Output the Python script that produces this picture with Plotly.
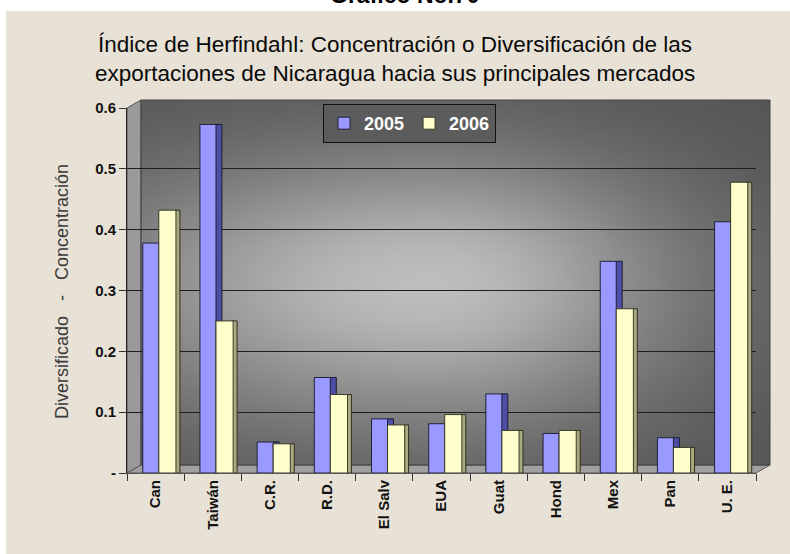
import base64
import math
import struct
import zlib

import plotly.graph_objects as go

# ---------------- data ----------------
categories = ["Can", "Taiwán", "C.R.", "R.D.", "El Salv", "EUA", "Guat", "Hond", "Mex", "Pan", "U. E."]
values_2005 = [0.378, 0.573, 0.051, 0.157, 0.089, 0.081, 0.130, 0.065, 0.348, 0.058, 0.413]
values_2006 = [0.432, 0.250, 0.048, 0.129, 0.079, 0.096, 0.070, 0.070, 0.270, 0.042, 0.478]
y_tick_values = [0, 0.1, 0.2, 0.3, 0.4, 0.5, 0.6]
y_tick_labels = ["-", "0.1", "0.2", "0.3", "0.4", "0.5", "0.6"]
series_names = ["2005", "2006"]

# ---------------- geometry helpers (pixels -> paper) ----------------
W, H = 790, 554
L, R, T, B = 127, 34, 108, 81
PW, PH = W - L - R, H - T - B


def px(x):
    return (x - L) / PW


def py(y):
    return (H - B - y) / PH


BEIGE = "#e8e1d5"
FONT = "Liberation Sans, Arial, sans-serif"


# ---------------- back-wall gradient as a tiny PNG (style only) ----------------
def _chunk(tag, data):
    return struct.pack(">I", len(data)) + tag + data + struct.pack(">I", zlib.crc32(tag + data) & 0xFFFFFFFF)


def gradient_png(w, h):
    rows = []
    for j in range(h):
        v = (j + 0.5) / h
        row = bytearray([0])
        for i in range(w):
            u = (i + 0.5) / w
            dx = u - 0.46
            sx = 0.55 if dx < 0 else 0.40
            dy = v - 0.50
            sy = 0.36 if dy < 0 else 0.40
            k = math.exp(-((dx / sx) ** 2 + (dy / sy) ** 2))
            row.append(int(84 + (190 - 84) * k))
        rows.append(bytes(row))
    raw = b"".join(rows)
    png = (b"\x89PNG\r\n\x1a\n" + _chunk(b"IHDR", struct.pack(">IIBBBBB", w, h, 8, 0, 0, 0, 0))
           + _chunk(b"IDAT", zlib.compress(raw)) + _chunk(b"IEND", b""))
    return "data:image/png;base64," + base64.b64encode(png).decode()


fig = go.Figure()
# pseudo-3D: darker side faces drawn behind the front faces
fig.add_trace(go.Bar(x=categories, y=values_2005, name=series_names[0] + " side", showlegend=False,
                     offset=0.05, width=0.11, hoverinfo="skip",
                     marker=dict(color="#4e4ea6", line=dict(color="#1e1e30", width=1))))
fig.add_trace(go.Bar(x=categories, y=values_2005, name=series_names[0],
                     offset=-0.224, width=0.28,
                     marker=dict(color="#9999ff", line=dict(color="#22223a", width=1))))
fig.add_trace(go.Bar(x=categories, y=values_2006, name=series_names[1] + " side", showlegend=False,
                     offset=0.34, width=0.085, hoverinfo="skip",
                     marker=dict(color="#a9a982", line=dict(color="#30301e", width=1))))
fig.add_trace(go.Bar(x=categories, y=values_2006, name=series_names[1],
                     offset=0.056, width=0.30,
                     marker=dict(color="#ffffcc", line=dict(color="#3a3a28", width=1))))

wx0, wx1, wy0, wy1 = 141, 770, 100, 465
images = [dict(source=gradient_png(64, 48), xref="paper", yref="paper",
               x=px(wx0), y=py(wy0), sizex=px(wx1) - px(wx0), sizey=py(wy0) - py(wy1),
               xanchor="left", yanchor="top", sizing="stretch", layer="below")]

shapes = [
    # white strips outside the beige panel
    dict(type="rect", xref="paper", yref="paper", x0=px(-5), x1=px(W + 5), y0=py(11), y1=py(-5),
         fillcolor="#ffffff", line=dict(width=0), layer="below"),
    dict(type="rect", xref="paper", yref="paper", x0=px(-5), x1=px(6), y0=py(H + 5), y1=py(-5),
         fillcolor="#ffffff", line=dict(width=0), layer="below"),
    # left side wall
    dict(type="path", xref="paper", yref="paper",
         path=f"M {px(127)} {py(108)} L {px(141)} {py(100)} L {px(141)} {py(465)} L {px(127)} {py(473)} Z",
         fillcolor="#9a9a9a", line=dict(color="#555", width=1), layer="below"),
    # floor
    dict(type="path", xref="paper", yref="paper",
         path=f"M {px(127)} {py(473)} L {px(141)} {py(465)} L {px(770)} {py(465)} L {px(756)} {py(473)} Z",
         fillcolor="#a0a0a0", line=dict(color="#555", width=1), layer="below"),
    # back wall border
    dict(type="rect", xref="paper", yref="paper", x0=px(wx0), x1=px(wx1), y0=py(wy1), y1=py(wy0),
         line=dict(color="#444", width=1), layer="below"),
]

annotations = [
    dict(text="<b>Gráfico No.70</b>", xref="paper", yref="paper", x=px(405), y=py(-5),
         xanchor="center", yanchor="middle", showarrow=False,
         font=dict(family=FONT, size=23, color="#000")),
    dict(text="Índice de Herfindahl: Concentración o Diversificación de las", xref="paper", yref="paper",
         x=px(395), y=py(45), xanchor="center", yanchor="middle", showarrow=False,
         font=dict(family=FONT, size=22.5, color="#0a0a0a")),
    dict(text="exportaciones de Nicaragua hacia sus principales mercados", xref="paper", yref="paper",
         x=px(395), y=py(73), xanchor="center", yanchor="middle", showarrow=False,
         font=dict(family=FONT, size=22.5, color="#0a0a0a")),
    dict(text="Diversificado   -   Concentración", xref="paper", yref="paper",
         x=px(62), y=py(292), xanchor="center", yanchor="middle", textangle=-90, showarrow=False,
         font=dict(family=FONT, size=18, color="#3a3a3a")),
]

fig.update_layout(
    width=W, height=H,
    margin=dict(l=L, r=R, t=T, b=B, pad=0),
    paper_bgcolor=BEIGE,
    plot_bgcolor="rgba(0,0,0,0)",
    barmode="overlay",
    shapes=shapes, annotations=annotations, images=images,
    showlegend=True,
    legend=dict(orientation="h", x=px(409.5), y=py(104), xanchor="center", yanchor="top",
                bgcolor="#5c5c5c", bordercolor="#111", borderwidth=1,
                font=dict(family=FONT, size=18, color="#ffffff", weight="bold"),
                itemwidth=30, traceorder="normal"),
    font=dict(family=FONT),
)
fig.update_yaxes(range=[0, 0.6], tickvals=y_tick_values, ticktext=y_tick_labels,
                 showgrid=True, gridcolor="#1e1e1e", gridwidth=1, zeroline=False,
                 showline=True, linecolor="#222", linewidth=1,
                 ticks="outside", ticklen=7, tickcolor="#333",
                 tickfont=dict(family=FONT, size=15, color="#111", weight="bold"))
fig.update_xaxes(tickangle=-90, tickson="boundaries", ticks="outside", ticklen=7, tickcolor="#333",
                 showline=True, linecolor="#555", linewidth=1, showgrid=False,
                 tickfont=dict(family=FONT, size=15, color="#111", weight="bold"))

fig.write_html("out.html", config={"displayModeBar": False},
               post_script="document.body.style.margin='0px';")
